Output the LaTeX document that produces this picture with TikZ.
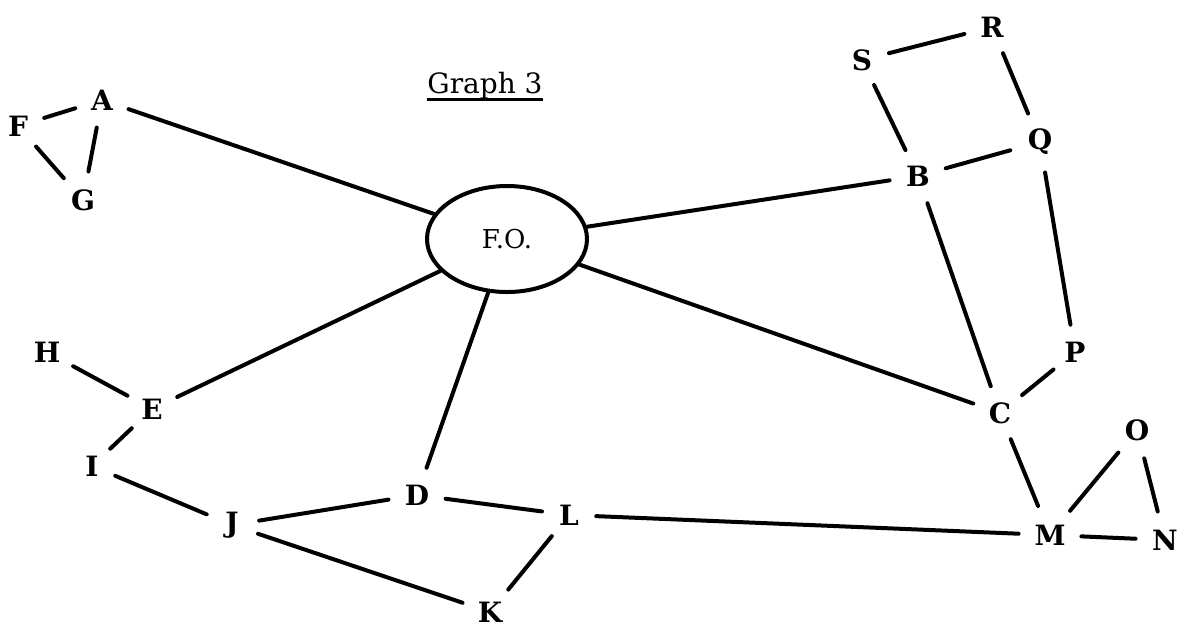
\documentclass[tikz,border=0pt]{standalone}
\usepackage{fontspec}
\setmainfont{DejaVu Serif}
\usetikzlibrary{shapes.geometric}
\tikzset{
  vtx/.style={circle,inner sep=4.5pt,font=\fontsize{14}{14}\selectfont\bfseries},
  edge/.style={line width=2pt,line cap=round}
}
\begin{document}
\begin{tikzpicture}[x=0.5pt,y=-0.5pt]
    \useasboundingbox (0,0) rectangle (1180,629);
    % title and centre
    \node[font=\fontsize{14}{14}\selectfont,inner sep=0pt] (title) at (485,86) {Graph 3};
    \draw[line width=1.5pt] (title.south west) -- (title.south east);
    \node[ellipse,draw,line width=2pt,minimum width=80pt,minimum height=53pt,
          font=\fontsize{13}{13}\selectfont] (fo) at (507,239) {F.O.};
    % vertices
    \node[vtx] (a) at (102,100) {A};  \node[vtx] (f) at (18,126) {F};
    \node[vtx] (g) at (83,200) {G};
    \node[vtx] (s) at (862,60) {S};   \node[vtx] (r) at (992,27) {R};
    \node[vtx] (b) at (918,176) {B};  \node[vtx] (q) at (1040,142) {Q};
    \node[vtx] (p) at (1075,352) {P}; \node[vtx] (c) at (1000,413) {C};
    \node[vtx] (o) at (1137,430) {O}; \node[vtx] (m) at (1050,535) {M};
    \node[vtx] (n) at (1165,540) {N};
    \node[vtx] (h) at (47,352) {H};   \node[vtx] (e) at (152,409) {E};
    \node[vtx] (i) at (92,466) {I};   \node[vtx] (j) at (232,525) {J};
    \node[vtx] (d) at (417,495) {D};  \node[vtx] (l) at (569,515) {L};
    \node[vtx] (k) at (490,612) {K};
    % edges
    \foreach \u/\v in {f/a,f/g,a/g,a/fo,fo/b,fo/c,fo/e,fo/d,s/r,s/b,r/q,b/q,b/c,
                       q/p,p/c,c/m,m/o,o/n,m/n,l/m,h/e,e/i,i/j,j/d,j/k,d/l,l/k}
      \draw[edge] (\u) -- (\v);
\end{tikzpicture}
\end{document}
